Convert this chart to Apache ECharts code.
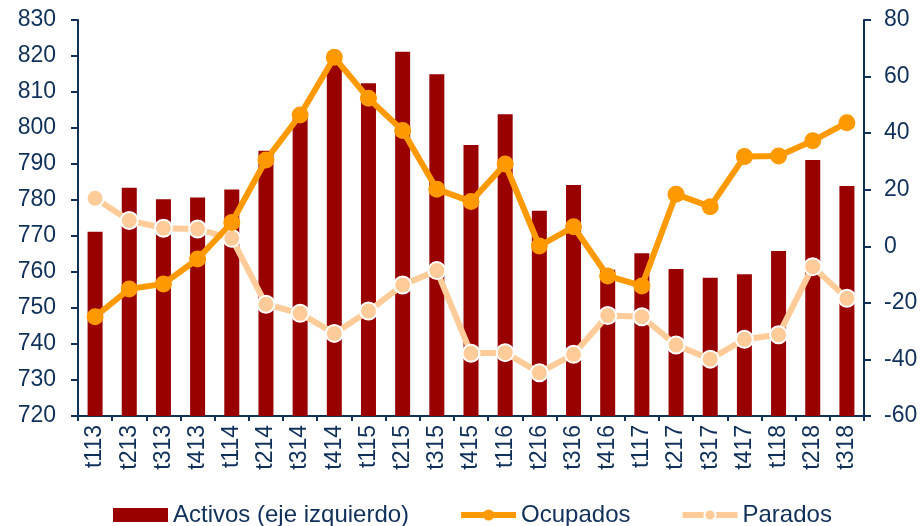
<!DOCTYPE html>
<html>
<head>
<meta charset="utf-8">
<script src="https://cdn.jsdelivr.net/npm/echarts@6/dist/echarts.min.js"></script>
<style>
  html, body { margin: 0; padding: 0; background: #fff; }
  #main { width: 922px; height: 526px; }
</style>
</head>
<body>
<div id="main"></div>
<script>
const categories = ['t113', 't213', 't313', 't413', 't114', 't214', 't314', 't414', 't115', 't215', 't315', 't415',
  't116', 't216', 't316', 't416', 't117', 't217', 't317', 't417', 't118', 't218', 't318'];

// miles de personas, eje izquierdo
const activos = [771.2, 783.4, 780.2, 780.7, 782.9, 793.7, 803.1, 817.5, 812.4, 821.2, 814.9, 795.3,
  803.8, 777.0, 784.2, 760.6, 765.2, 760.8, 758.4, 759.4, 765.8, 791.1, 783.9];

// variación, eje derecho
const ocupados = [-24.9, -15.1, -13.3, -4.5, 8.4, 30.5, 46.4, 66.8, 52.3, 40.9, 20.2, 15.8,
  29.1, 0.1, 6.9, -10.5, -14.0, 18.4, 14.0, 31.7, 31.9, 37.3, 43.7];

const parados = [17.0, 9.1, 6.4, 6.1, 2.8, -20.5, -23.7, -30.8, -22.9, -13.7, -8.6, -37.8,
  -37.6, -44.7, -38.2, -24.5, -24.9, -34.9, -39.9, -32.9, -31.3, -7.2, -18.4];

const navy = '#10305A';
const font = '"Liberation Sans", Arial, sans-serif';

const chart = echarts.init(document.getElementById('main'));

const option = {
  backgroundColor: '#fff',
  animation: false,
  textStyle: { fontFamily: font },
  grid: { left: 78, right: 58, top: 20, bottom: 110 },
  legend: {
    left: 108,
    top: 498,
    itemWidth: 55,
    itemHeight: 14,
    itemGap: 49,
    data: [
      { name: 'Activos (eje izquierdo)', icon: 'rect' },
      { name: 'Ocupados' },
      { name: 'Parados' }
    ],
    lineStyle: { width: 6 },
    textStyle: { color: navy, fontSize: 24, fontFamily: font }
  },
  xAxis: {
    type: 'category',
    data: categories,
    axisLine: { onZero: false, lineStyle: { color: navy, width: 2 } },
    axisTick: { show: true, length: 5, lineStyle: { color: navy, width: 2 } },
    axisLabel: { rotate: 90, color: navy, fontSize: 23, margin: 9 }
  },
  yAxis: [
    {
      type: 'value',
      min: 720,
      max: 830,
      interval: 10,
      splitLine: { show: false },
      axisLine: { show: true, lineStyle: { color: navy, width: 2 } },
      axisTick: { show: true, length: 7, lineStyle: { color: navy, width: 2 } },
      axisLabel: { color: navy, fontSize: 23, margin: 22 }
    },
    {
      type: 'value',
      min: -60,
      max: 80,
      interval: 20,
      splitLine: { show: false },
      axisLine: { show: true, lineStyle: { color: navy, width: 2 } },
      axisTick: { show: true, length: 7, lineStyle: { color: navy, width: 2 } },
      axisLabel: { color: navy, fontSize: 23, margin: 20 }
    }
  ],
  series: [
    {
      name: 'Activos (eje izquierdo)',
      type: 'bar',
      yAxisIndex: 0,
      barWidth: 15,
      itemStyle: { color: '#990000' },
      data: activos,
      z: 1
    },
    {
      name: 'Parados',
      type: 'line',
      yAxisIndex: 1,
      symbol: 'circle',
      symbolSize: 17,
      lineStyle: { color: '#FFCC99', width: 6 },
      itemStyle: { color: '#FFCC99', borderColor: '#fff', borderWidth: 2 },
      data: parados,
      z: 2
    },
    {
      name: 'Ocupados',
      type: 'line',
      yAxisIndex: 1,
      symbol: 'circle',
      symbolSize: 17,
      lineStyle: { color: '#FF9900', width: 6 },
      itemStyle: { color: '#FF9900' },
      data: ocupados,
      z: 3
    }
  ]
};

chart.setOption(option);
</script>
</body>
</html>
